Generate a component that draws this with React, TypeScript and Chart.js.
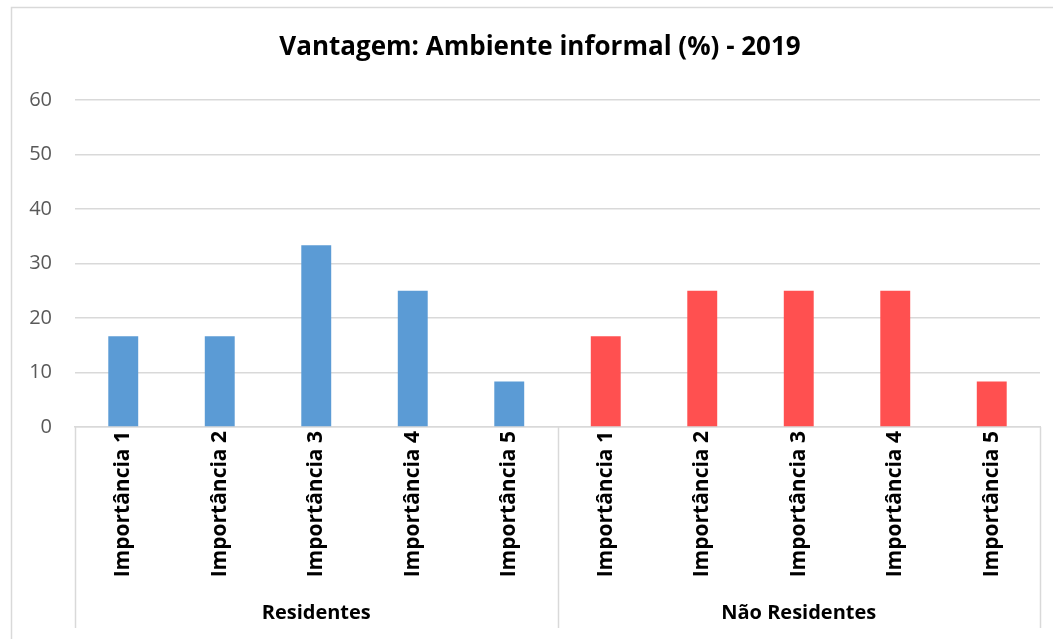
import React, { useEffect, useRef } from "react";
import { Chart, registerables } from "chart.js";

Chart.register(...registerables);

const title = "Vantagem: Ambiente informal (%) - 2019";
const groups = ["Residentes", "Não Residentes"];
const importanceLabels = ["Importância 1", "Importância 2", "Importância 3", "Importância 4", "Importância 5"];
const residentes = [16.67, 16.67, 33.33, 25, 8.33];
const naoResidentes = [16.67, 25, 25, 25, 8.33];
const yTicks = [0, 10, 20, 30, 40, 50, 60];

const BLUE = "#5B9BD5";
const RED = "#FF5050";
const GRID = "#d9d9d9";
const FONT = "'Open Sans', 'Noto Sans', sans-serif";

export default function App() {
  const ref = useRef<HTMLCanvasElement | null>(null);

  useEffect(() => {
    if (!ref.current) return;
    const labels = [...importanceLabels, ...importanceLabels];
    const values = [...residentes, ...naoResidentes];
    const colors = [...residentes.map(() => BLUE), ...naoResidentes.map(() => RED)];

    const decor = {
      id: "decor",
      beforeDraw(chart: any) {
        const ctx = chart.ctx;
        ctx.save();
        ctx.fillStyle = "#ffffff";
        ctx.fillRect(0, 0, chart.width, chart.height);
        ctx.strokeStyle = GRID;
        ctx.lineWidth = 1.5;
        ctx.beginPath();
        ctx.moveTo(11.5, chart.height + 5);
        ctx.lineTo(11.5, 7.5);
        ctx.lineTo(chart.width + 5, 7.5);
        ctx.stroke();
        ctx.fillStyle = "#000000";
        ctx.font = `bold 26px ${FONT}`;
        ctx.textAlign = "center";
        ctx.textBaseline = "middle";
        ctx.fillText(title, 540, 48);
        ctx.restore();
      },
      afterDraw(chart: any) {
        const ctx = chart.ctx;
        const x = chart.scales.x;
        const area = chart.chartArea;
        const n = importanceLabels.length;
        const mid = (x.getPixelForValue(n - 1) + x.getPixelForValue(n)) / 2;
        const lines = [x.left, mid, x.right];
        ctx.save();
        ctx.strokeStyle = GRID;
        ctx.lineWidth = 1.5;
        lines.forEach((lx) => {
          ctx.beginPath();
          ctx.moveTo(Math.round(lx) + 0.5, area.bottom);
          ctx.lineTo(Math.round(lx) + 0.5, 628);
          ctx.stroke();
        });
        ctx.fillStyle = "#000000";
        ctx.font = `bold 20px ${FONT}`;
        ctx.textAlign = "center";
        ctx.textBaseline = "middle";
        ctx.fillText(groups[0], (x.left + mid) / 2, 613);
        ctx.fillText(groups[1], (mid + x.right) / 2, 613);
        ctx.restore();
      },
    };

    const chart = new Chart(ref.current, {
      type: "bar",
      data: {
        labels,
        datasets: [
          {
            data: values,
            backgroundColor: colors,
            borderWidth: 0,
            categoryPercentage: 1,
            barPercentage: 0.31,
          },
        ],
      },
      options: {
        animation: false,
        responsive: false,
        maintainAspectRatio: false,
        layout: { padding: { top: 100, right: 13, bottom: 0, left: 0 } },
        plugins: {
          legend: { display: false },
          title: { display: false },
          tooltip: { enabled: false },
        },
        scales: {
          x: {
            grid: { display: false, drawTicks: false },
            border: { display: true, color: GRID, width: 1.5 },
            ticks: {
              autoSkip: false,
              minRotation: 90,
              maxRotation: 90,
              padding: 4,
              color: "#000000",
              font: { family: FONT, size: 21, weight: "bold" },
            },
            afterFit(scale: any) {
              scale.height = 212;
            },
          },
          y: {
            min: 0,
            max: 60,
            afterBuildTicks(scale: any) {
              scale.ticks = yTicks.map((v) => ({ value: v }));
            },
            grid: { color: GRID, lineWidth: 1.5, drawTicks: false },
            border: { display: false },
            ticks: {
              padding: 23,
              color: "#595959",
              font: { family: FONT, size: 20 },
            },
            afterFit(scale: any) {
              scale.width = 75;
            },
          },
        },
      },
      plugins: [decor],
    });
    return () => chart.destroy();
  }, []);

  return (
    <div style={{ position: "fixed", left: 0, top: 0, width: 1053, height: 639 }}>
      <canvas ref={ref} width={1053} height={639} style={{ width: 1053, height: 639 }} />
    </div>
  );
}
